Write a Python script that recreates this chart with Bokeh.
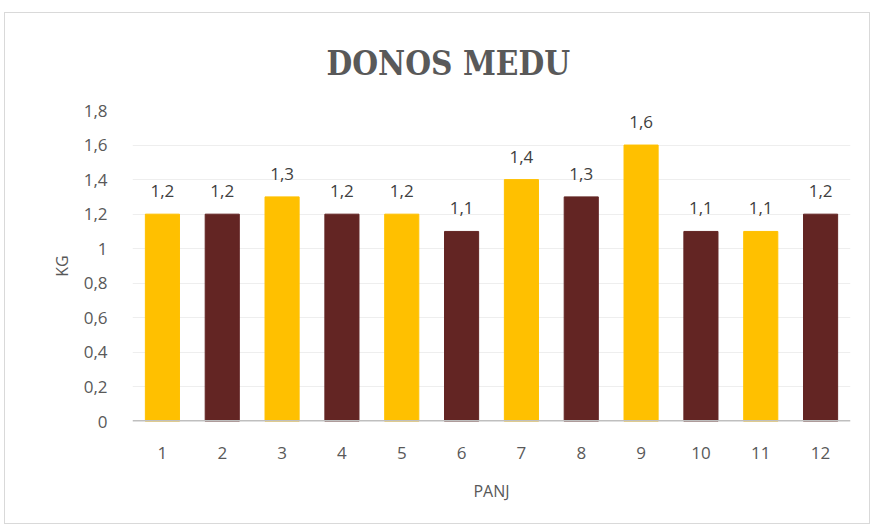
from bokeh.plotting import figure
from bokeh.models import ColumnDataSource, LabelSet, Span, FixedTicker, Range1d
from bokeh.core.properties import value
from bokeh.embed import file_html
from bokeh.resources import INLINE

title_text = "DONOS MEDU"
months = ["1", "2", "3", "4", "5", "6", "7", "8", "9", "10", "11", "12"]
values = [1.2, 1.2, 1.3, 1.2, 1.2, 1.1, 1.4, 1.3, 1.6, 1.1, 1.1, 1.2]
bar_colors = ["#FFC000", "#632523"] * 6
value_labels = ["1,2", "1,2", "1,3", "1,2", "1,2", "1,1", "1,4", "1,3", "1,6", "1,1", "1,1", "1,2"]
y_ticks = [0, 0.2, 0.4, 0.6, 0.8, 1.0, 1.2, 1.4, 1.6, 1.8]
y_tick_labels = ["0", "0,2", "0,4", "0,6", "0,8", "1", "1,2", "1,4", "1,6", "1,8"]

src = ColumnDataSource(dict(x=months, top=values, color=bar_colors, lab=value_labels))

p = figure(x_range=months, y_range=Range1d(0, 1.8), width=866, height=512,
           output_backend="svg", toolbar_location=None,
           min_border_left=127, min_border_right=21, min_border_top=97, min_border_bottom=104)
p.styles = {"border": "1px solid #d9d9d9", "margin-top": "12px", "margin-left": "4px"}
p.outline_line_color = None

p.title.text = title_text
p.title.align = "left"
p.title.offset = 194
p.title.text_font = "DejaVu Serif Condensed"
p.title.text_font_style = "bold"
p.title.text_font_size = "33px"
p.title.text_color = "#595959"
p.title.standoff = 56

p.vbar(x="x", top="top", width=0.57, color="color", source=src)

labels = LabelSet(x="x", y="top", text="lab", source=src, text_align="center",
                  text_baseline="bottom", y_offset=17, text_font=value("Open Sans"),
                  text_font_size="17px", text_color="#404040")
p.add_layout(labels)

p.add_layout(Span(location=0, dimension="width", line_color="#bfbfbf", line_width=3))

p.yaxis.ticker = FixedTicker(ticks=y_ticks)
p.yaxis.major_label_overrides = {t: l for t, l in zip(y_ticks, y_tick_labels)}
p.yaxis.axis_line_color = None
p.yaxis.major_tick_line_color = None
p.yaxis.minor_tick_line_color = None
p.yaxis.major_label_standoff = 19
p.yaxis.axis_label = "KG"
p.yaxis.axis_label_standoff = 8

p.xaxis.axis_line_color = None
p.xaxis.major_tick_line_color = None
p.xaxis.major_label_standoff = 19
p.xaxis.axis_label = "PANJ"
p.xaxis.axis_label_standoff = 18

for ax in (p.xaxis, p.yaxis):
    ax.major_label_text_font = "Open Sans"
    ax.major_label_text_font_size = "17px"
    ax.major_label_text_color = "#595959"
    ax.axis_label_text_font = "Open Sans"
    ax.axis_label_text_font_size = "16px"
    ax.axis_label_text_font_style = "normal"
    ax.axis_label_text_color = "#595959"

p.xgrid.grid_line_color = None
p.ygrid.grid_line_color = "#eeeeee"
p.ygrid.grid_line_width = 1

open("out.html", "w").write(file_html(p, INLINE))
